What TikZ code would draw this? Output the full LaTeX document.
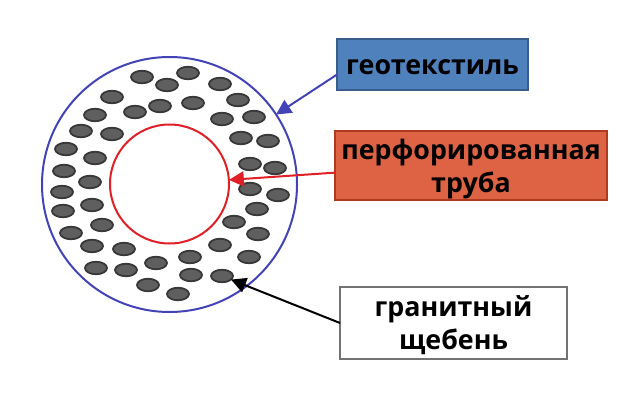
\documentclass[tikz,border=0pt]{standalone}
\usepackage{fontspec}
\setmainfont{Open Sans}
\usepackage{tikz}
\usetikzlibrary{arrows.meta}
\usetikzlibrary{shapes.geometric}
\definecolor{tubered}{HTML}{E01F26}
\definecolor{geoblue}{HTML}{4343B8}
\definecolor{boxblue}{HTML}{4F81BD}
\definecolor{boxblueline}{HTML}{385D8A}
\definecolor{boxred}{HTML}{DD6344}
\definecolor{boxredline}{HTML}{B03A1E}
\definecolor{stonefill}{HTML}{5F5F5F}
\definecolor{stoneline}{HTML}{383838}
\tikzset{
	ring/.style={circle, draw, line width=2pt, inner sep=0pt, outer sep=0pt},
	stone/.style={ellipse, draw=stoneline, fill=stonefill, line width=1.8pt, minimum width=22pt, minimum height=12.5pt, inner sep=0pt, outer sep=0pt},
	labelbox/.style={rectangle, line width=1.4pt, align=center, inner sep=0pt, outer sep=0pt, text depth=0pt, font=\fontsize{26.8}{33}\selectfont\bfseries},
	pointer/.style={-{Triangle[length=15pt,width=15pt]}, line width=2pt},
}
\begin{document}
\begin{tikzpicture}[x=1pt,y=-1pt]
\useasboundingbox (0,0) rectangle (617,401);
% rings
\node[ring, draw=geoblue, minimum size=255pt] (geo) at (169.5,184.5) {};
\node[ring, draw=tubered, minimum size=119pt] (tube) at (169.5,184) {};
% crushed stone
\foreach \x/\y in {
	142/77, 167/85, 188/73, 220/84, 238/100, 193/103, 160/106, 135/112, 112/97,
	95/115, 81/131, 112/134, 66/149, 95/158, 64/171, 90/182, 62/192, 63/211,
	92/205, 102/225, 71/233, 92/246, 124/249, 96/268, 126/270, 156/263, 148/285,
	178/294, 191/275, 190/257, 220/245, 249/257, 234/222, 258/234, 257/209,
	250/189, 278/195, 250/164, 275/168, 241/138, 268/141, 222/119, 254/117}
{
	\node[stone] at (\x,\y) {};
}
\node[stone] (last) at (222,276) {};
% labels
\node[labelbox, text height=20pt, draw=boxblueline, fill=boxblue, minimum width=191pt, minimum height=51pt] (geolabel) at (432.5,64.5) {геотекстиль};
\node[labelbox, draw=boxredline, fill=boxred, minimum width=272pt, minimum height=69pt] (tubelabel) at (471,165.5) {перфорированная\\труба};
\node[labelbox, draw=black!55, fill=white, minimum width=227pt, minimum height=72pt] (stonelabel) at (453.5,323) {гранитный\\щебень};
% arrows
\path[pointer]
(geolabel.186) edge[geoblue] (geo)
(tubelabel.183) edge[tubered] (tube)
(stonelabel.west) edge[black] (last)
;
\end{tikzpicture}
\end{document}
